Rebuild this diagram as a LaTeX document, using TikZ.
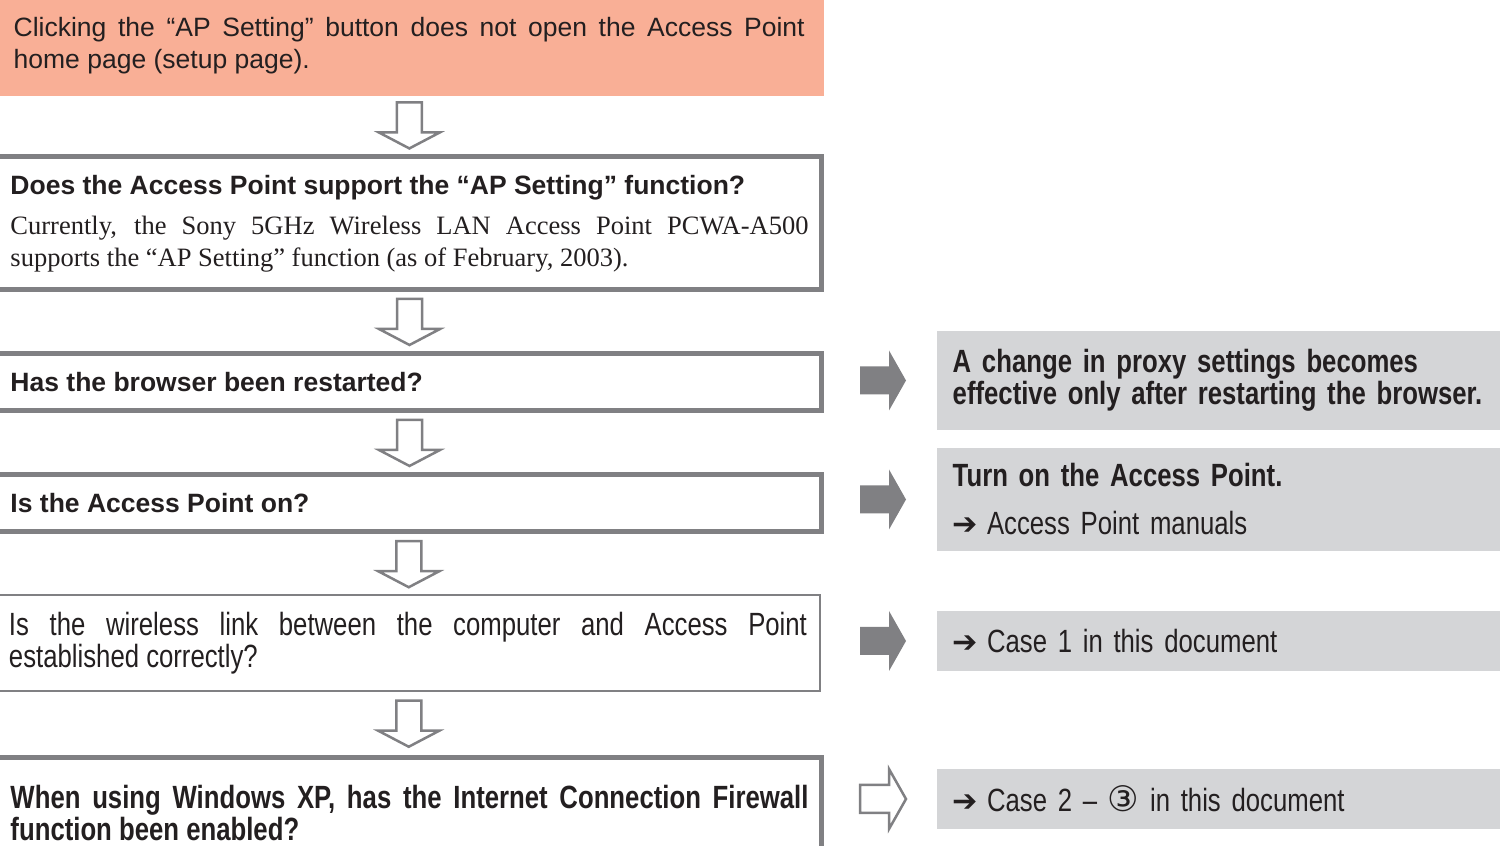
\documentclass[tikz,border=0pt]{standalone}
\usepackage{fontspec}
\setmainfont{Liberation Sans}
\newfontfamily\serifface{Liberation Serif}
\newfontfamily\narrowface{Liberation Sans}[FakeStretch=0.8]
\newfontfamily\symface{DejaVu Sans}
\usetikzlibrary{calc}
\definecolor{salmon}{RGB}{249,175,150}
\definecolor{boxline}{RGB}{128,128,131}
\definecolor{panel}{RGB}{212,213,215}
\definecolor{ink}{RGB}{35,31,32}
\newcommand{\basesize}{\fontsize{7.54pt}{9.1pt}\selectfont}
\newcommand{\narrowsize}{\narrowface\fontsize{9.15pt}{9.1pt}\selectfont}
\newcommand{\goto}{{\symface\fontsize{8.6pt}{9.1pt}\selectfont ➔}\hspace{0.9mm}}

\begin{document}
\begin{tikzpicture}[x=0.1mm, y=-0.1mm, every node/.style={text=ink, font=\basesize}]
	\tikzstyle{question} = [draw=boxline, line width=0.5mm, rectangle, anchor=north west, inner xsep=1.3mm, inner ysep=0pt, text width=79.8mm, align=justify]
	\tikzstyle{answer}   = [fill=panel, rectangle, anchor=west, inner xsep=1.6mm, inner ysep=0pt, text width=56.8mm, align=left, font=\narrowsize]
	\tikzstyle{hollow}   = [draw=boxline, line width=0.25mm, fill=white, line join=miter]

	\useasboundingbox (0,0) rectangle (1500,846);
	\clip (0,0) rectangle (1500,846);

%	left column
	\node[fill=salmon, anchor=north west, inner xsep=1.9mm, inner ysep=0pt, minimum height=10mm, text width=79.1mm, align=justify] (top) at (-6,-5)
		{Clicking the “AP Setting” button does not open the Access Point\linebreak home page (setup page).};
	\node[question, minimum height=13.3mm] (q1) at (-5,154.5)
		{{\bfseries Does the Access Point support the “AP Setting” function?\par}\vspace{0.8mm}%
		{\serifface Currently, the Sony 5GHz Wireless LAN Access Point PCWA-A500\linebreak supports the “AP Setting” function (as of February, 2003).}};
	\node[question, minimum height=5.7mm, font=\basesize\bfseries] (q2) at (-5,351.5) {Has the browser been restarted?};
	\node[question, minimum height=5.7mm, font=\basesize\bfseries] (q3) at (-5,472.5) {Is the Access Point on?};
	\node[question, minimum height=9.6mm, line width=0.2mm, font=\narrowsize] (q4) at (-5,594)
		{Is the wireless link between the computer and Access Point\linebreak established correctly?};
	\node[question, minimum height=11mm, font=\narrowsize\bfseries] (q5) at (-5,755.5)
		{When using Windows XP, has the Internet Connection Firewall\linebreak function been enabled?};

%	right column
	\node[answer, minimum height=9.9mm, font=\narrowsize\bfseries] (n1) at (936,380.5)
		{A change in proxy settings becomes\\effective only after restarting the browser.};
	\node[answer, minimum height=10.3mm] (n2) at (936,499.5)
		{{\bfseries Turn on the Access Point.}\\[1.6mm]\goto Access Point manuals};
	\node[answer, minimum height=6mm] (n3) at (936,641) {\goto Case 1 in this document};
	\node[answer, minimum height=6mm] (n4) at (936,799) {\goto Case 2 – {\symface\fontsize{10pt}{9.1pt}\selectfont ③} in this document};

	\foreach \a/\b in {top/q1, q1/q2, q2/q3, q3/q4, q4/q5}
		\draw[hollow] ($(\a.south)!0.5!(\b.north)$) ++(-12.5,-23) -- ++(0,30) -- ++(-18,0) -- ++(30.5,16) -- ++(30.5,-16) -- ++(-18,0) -- ++(0,-30) -- cycle;

	\foreach \b in {n1, n2, n3}
		\fill[boxline] (\b.west) ++(-76,-14) -- ++(29,0) -- ++(0,-16) -- ++(17,30) -- ++(-17,30) -- ++(0,-16) -- ++(-29,0) -- cycle;
	\draw[hollow] (n4.west) ++(-76,-14) -- ++(29,0) -- ++(0,-16) -- ++(17,30) -- ++(-17,30) -- ++(0,-16) -- ++(-29,0) -- cycle;
\end{tikzpicture}
\end{document}
